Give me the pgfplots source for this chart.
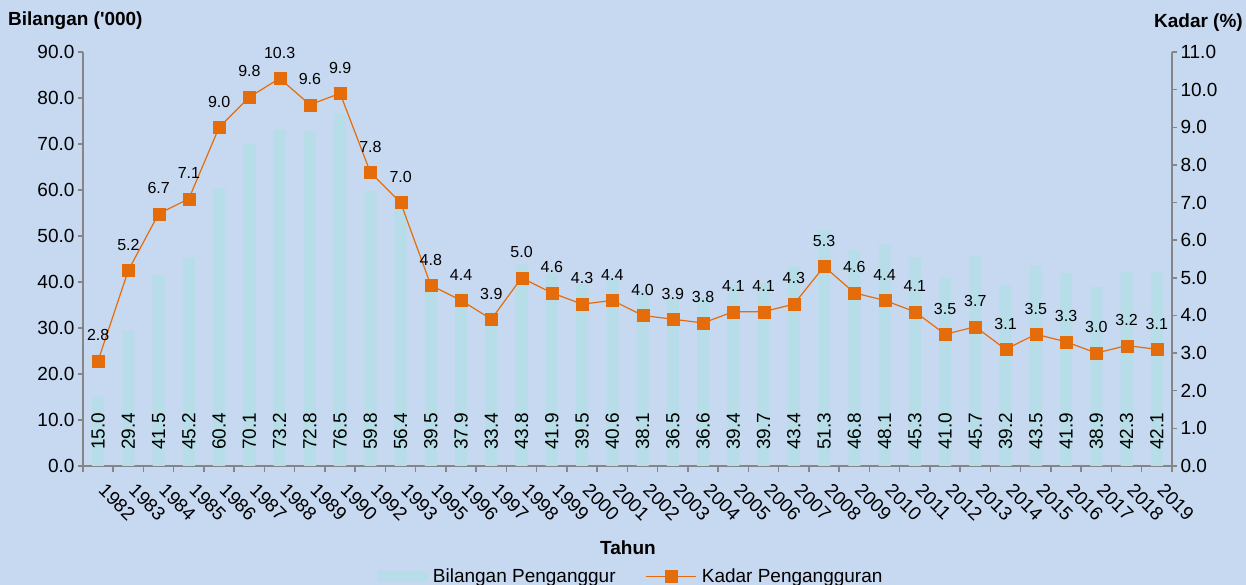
\documentclass[border=0pt]{standalone}
\usepackage{pgfplots}
\pgfplotsset{compat=1.18}
\usepackage{pgfplotstable}
\usepackage{fontspec}
\setmainfont{Liberation Sans}[Ligatures=TeXOff]
\definecolor{bgc}{RGB}{198,217,241}
\definecolor{barc}{RGB}{183,222,232}
\definecolor{linec}{RGB}{228,108,10}
\definecolor{axc}{RGB}{134,134,134}
\newcommand{\fs}{\fontsize{19}{22}\selectfont}
\pgfplotstableread{
i year n r
0 1982 15.0 2.8
1 1983 29.4 5.2
2 1984 41.5 6.7
3 1985 45.2 7.1
4 1986 60.4 9.0
5 1987 70.1 9.8
6 1988 73.2 10.3
7 1989 72.8 9.6
8 1990 76.5 9.9
9 1992 59.8 7.8
10 1993 56.4 7.0
11 1995 39.5 4.8
12 1996 37.9 4.4
13 1997 33.4 3.9
14 1998 43.8 5.0
15 1999 41.9 4.6
16 2000 39.5 4.3
17 2001 40.6 4.4
18 2002 38.1 4.0
19 2003 36.5 3.9
20 2004 36.6 3.8
21 2005 39.4 4.1
22 2006 39.7 4.1
23 2007 43.4 4.3
24 2008 51.3 5.3
25 2009 46.8 4.6
26 2010 48.1 4.4
27 2011 45.3 4.1
28 2012 41.0 3.5
29 2013 45.7 3.7
30 2014 39.2 3.1
31 2015 43.5 3.5
32 2016 41.9 3.3
33 2017 38.9 3.0
34 2018 42.3 3.2
35 2019 42.1 3.1
}\data
\pgfplotsset{
  base/.style={
    at={(83pt,119pt)}, anchor=south west,
    scale only axis, width=1089pt, height=414pt,
    xmin=-0.5, xmax=35.5,
    tick align=outside,
    axis line style={draw=axc, line width=1.8pt, -},
    tick style={draw=axc, line width=1.5pt},
    major tick length=5pt,
    minor tick length=6pt,
    tick label style={font=\fs, text=black},
    /pgf/number format/fixed,
    /pgf/number format/fixed zerofill,
    /pgf/number format/precision=1,
    /pgf/number format/assume math mode=true,
  }
}
\begin{document}
\begin{tikzpicture}
\useasboundingbox (0,0) rectangle (1246pt,585pt);
\fill[bgc] (0,0) rectangle (1246pt,585pt);
\begin{axis}[base,
  axis x line*=bottom, axis y line*=left,
  ymin=0, ymax=90, ytick={0,10,...,90},
  xtick={0,...,35},
  xticklabels={1982,1983,1984,1985,1986,1987,1988,1989,1990,1992,1993,1995,1996,1997,1998,1999,2000,2001,2002,2003,2004,2005,2006,2007,2008,2009,2010,2011,2012,2013,2014,2015,2016,2017,2018,2019},
  major x tick style={draw=none},
  minor xtick={-0.5,0.5,...,35.5},
  xticklabel style={xshift=-1pt, yshift=-21pt, rotate=-45, anchor=south west, inner sep=0pt},
]
\addplot[ybar, bar width=12pt, fill=barc, draw=none] table[x=i,y=n]{\data};
\addplot[draw=none, nodes near coords, point meta=explicit,
  every node near coord/.style={yshift=16pt, rotate=90, anchor=west, inner sep=0pt, font=\fs, text=black}]
  table[x=i, y expr=0, meta=n]{\data};
\end{axis}
\begin{axis}[base,
  axis x line=none, axis y line*=right,
  ymin=0, ymax=11, ytick={0,...,11},
  legend columns=2,
  legend cell align=left,
  legend style={at={(0.5023,-0.266)}, anchor=center, draw=none, fill=none, font=\fs,
    inner sep=0pt, nodes={inner sep=0pt},
    /tikz/every odd column/.append style={column sep=5pt},
    /tikz/every even column/.append style={column sep=30pt}},
]
\addlegendimage{legend image code/.code={\fill[barc] (0pt,-5pt) rectangle (50pt,5pt);}}
\addlegendentry{Bilangan Penganggur}
\addplot[linec, line width=1.2pt, mark=square*, mark size=6pt,
  mark options={fill=linec, draw=linec, line width=0.1pt},
  nodes near coords, point meta=explicit,
  every node near coord/.style={anchor=south, inner sep=0pt, yshift=20pt, font=\fontsize{16}{19}\selectfont, text=black},
  legend image code/.code={\draw[linec, line width=1.2pt] (0pt,0pt) -- (50pt,0pt); \fill[linec] (19pt,-6pt) rectangle (31pt,6pt);}]
  table[x=i, y=r, meta=r]{\data};
\addlegendentry{Kadar Pengangguran}
\end{axis}
\node[anchor=base west, font=\bfseries\fs, inner sep=0pt] at (8pt,559pt) {Bilangan ('000)};
\node[anchor=base east, font=\bfseries\fs, inner sep=0pt] at (1243pt,557pt) {Kadar (\%)};
\node[anchor=base, font=\bfseries\fs, inner sep=0pt] at (628pt,30pt) {Tahun};
\end{tikzpicture}
\end{document}
